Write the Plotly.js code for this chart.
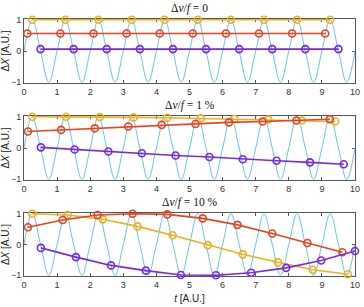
<!DOCTYPE html>
<html>
<head>
<meta charset="utf-8">
<script src="https://cdn.plot.ly/plotly-3.0.1.min.js"></script>
<style>html,body{margin:0;padding:0;background:#fff;}#chart{width:364px;height:307px;}</style>
</head>
<body>
<div id="chart"></div>
<script>
// Reference signal key points (quarter periods)
const sigT = [0,0.25,0.5,0.75,1,1.25,1.5,1.75,2,2.25,2.5,2.75,3,3.25,3.5,3.75,4,4.25,4.5,4.75,5,5.25,5.5,5.75,6,6.25,6.5,6.75,7,7.25,7.5,7.75,8,8.25,8.5,8.75,9,9.25,9.5,9.75,10];
const sigY = [0,1,0,-1,0,1,0,-1,0,1,0,-1,0,1,0,-1,0,1,0,-1,0,1,0,-1,0,1,0,-1,0,1,0,-1,0,1,0,-1,0,1,0,-1,0];

const panelTitles = ["Δ<i>ν</i>/<i>f</i> = 0", "Δ<i>ν</i>/<i>f</i> = 1 %", "Δ<i>ν</i>/<i>f</i> = 10 %"];

// Panel 1: Δν/f = 0
const p1YellowT = [0.25,1.25,2.25,3.25,4.25,5.25,6.25,7.25,8.25,9.25];
const p1YellowY = [1,1,1,1,1,1,1,1,1,1];
const p1RedT = [0.1,1.1,2.1,3.1,4.1,5.1,6.1,7.1,8.1,9.1];
const p1RedY = [0.56,0.56,0.56,0.56,0.56,0.56,0.56,0.56,0.56,0.56];
const p1PurpleT = [0.5,1.5,2.5,3.5,4.5,5.5,6.5,7.5,8.5,9.5];
const p1PurpleY = [0.06,0.06,0.06,0.06,0.06,0.06,0.06,0.06,0.06,0.06];

// Panel 2: Δν/f = 1 %
const p2YellowT = [0.25,1.27,2.29,3.31,4.33,5.34,6.36,7.38,8.39,9.40];
const p2YellowY = [1.0,1.0,0.99,0.98,0.97,0.95,0.93,0.91,0.88,0.85];
const p2RedT = [0.12,1.12,2.14,3.15,4.16,5.18,6.19,7.21,8.23,9.24];
const p2RedY = [0.53,0.58,0.63,0.69,0.74,0.77,0.82,0.85,0.88,0.92];
const p2PurpleT = [0.51,1.53,2.55,3.56,4.58,5.60,6.61,7.63,8.64,9.66];
const p2PurpleY = [0.02,-0.05,-0.11,-0.17,-0.24,-0.29,-0.36,-0.41,-0.46,-0.52];

// Panel 3: Δν/f = 10 %
const p3YellowT = [0.25,1.32,2.38,3.43,4.49,5.55,6.61,7.67,8.72,9.78];
const p3YellowY = [1.0,0.96,0.82,0.59,0.30,-0.02,-0.32,-0.58,-0.82,-0.97];
const p3RedT = [0.12,1.17,2.22,3.28,4.33,5.40,6.45,7.50,8.56,9.62];
const p3RedY = [0.56,0.80,0.96,1.0,0.98,0.85,0.64,0.36,0.05,-0.25];
const p3PurpleT = [0.51,1.57,2.63,3.68,4.74,5.80,6.86,7.92,8.98,10.0];
const p3PurpleY = [-0.11,-0.41,-0.68,-0.85,-0.99,-1.0,-0.92,-0.76,-0.52,-0.21];

const xTicks = [0,1,2,3,4,5,6,7,8,9,10];
const yTicks = [-1,0,1];

const cBlue = '#5EC4EC', cYellow = '#EDB120', cRed = '#E8421E', cPurple = '#7A28E0';

const panels = [
  {ax:'', y:[[p1YellowT,p1YellowY],[p1RedT,p1RedY],[p1PurpleT,p1PurpleY]]},
  {ax:'2', y:[[p2YellowT,p2YellowY],[p2RedT,p2RedY],[p2PurpleT,p2PurpleY]]},
  {ax:'3', y:[[p3YellowT,p3YellowY],[p3RedT,p3RedY],[p3PurpleT,p3PurpleY]]}
];
const cols = [cYellow, cRed, cPurple];
const traces = [];
panels.forEach(p => {
  traces.push({x:sigT, y:sigY, xaxis:'x'+p.ax, yaxis:'y'+p.ax, mode:'lines',
    line:{color:cBlue, width:1, shape:'spline', smoothing:1.1}, hoverinfo:'skip'});
  p.y.forEach((s,i) => {
    traces.push({x:s[0], y:s[1], xaxis:'x'+p.ax, yaxis:'y'+p.ax, mode:'lines+markers',
      cliponaxis:false,
      line:{color:cols[i], width:1.6},
      marker:{symbol:'circle-open', size:7, color:cols[i], line:{width:1.6, color:cols[i]}}});
  });
});

const domains = [[0.751,1],[0.3735,0.6226],[0,0.245]];
const axFont = {family:'Liberation Sans, Arial, sans-serif', size:9, color:'#333'};
function xa(anchor){
  return {domain:[0,1], range:[0,10], tickvals:xTicks, ticks:'inside', ticklen:3, tickcolor:'#555',
    showline:true, linecolor:'#555', linewidth:1, mirror:'ticks', showgrid:false, zeroline:false,
    layer:'below traces', tickfont:axFont, anchor:anchor};
}
function ya(i, anchor){
  return {domain:domains[i], range:[-1.025,1.025], tickvals:yTicks, ticks:'inside', ticklen:3, tickcolor:'#555',
    showline:true, linecolor:'#555', linewidth:1, mirror:'ticks', showgrid:false, zeroline:false,
    layer:'below traces', tickfont:axFont, anchor:anchor,
    title:{text:'Δ<i>X</i> [A.U.]', font:{family:'Liberation Sans, Arial, sans-serif', size:10, color:'#222'}, standoff:4}};
}
const xb = xa('y3');
xb.title = {text:'<i>t</i> [A.U.]', font:{family:'Liberation Sans, Arial, sans-serif', size:10, color:'#222'}, standoff:6};

const annotations = panelTitles.map((t,i) => ({
  text:t, xref:'paper', yref:'paper', x:0.5, y:domains[i][1], xanchor:'center', yanchor:'bottom',
  yshift:2, showarrow:false, font:{family:'Liberation Serif, DejaVu Serif, serif', size:11.5, color:'#111'}
}));

const layout = {
  width:364, height:307, margin:{l:24, r:9, t:19, b:31},
  paper_bgcolor:'#fff', plot_bgcolor:'#fff', showlegend:false,
  xaxis:xa('y'), yaxis:ya(0,'x'),
  xaxis2:xa('y2'), yaxis2:ya(1,'x2'),
  xaxis3:xb, yaxis3:ya(2,'x3'),
  annotations:annotations
};
Plotly.newPlot('chart', traces, layout, {staticPlot:true, displayModeBar:false});
</script>
</body>
</html>
